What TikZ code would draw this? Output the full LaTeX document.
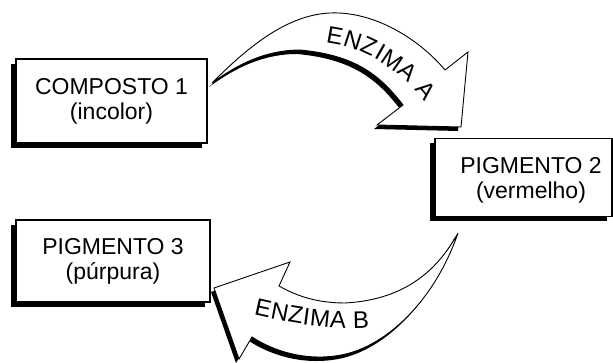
\documentclass[tikz,border=0pt]{standalone}
\usepackage{fontspec}
\setmainfont{Liberation Sans}
\usetikzlibrary{shadows}
\begin{document}
\begin{tikzpicture}[x=1pt,y=1pt,
  box/.style={draw=black, line width=1.1pt, fill=white, inner sep=0pt,
    general shadow={fill=black, shadow xshift=-5pt, shadow yshift=-5pt}},
  lbl/.style={align=center, font=\fontsize{23}{25}\selectfont, inner sep=0pt},
  enz/.style={anchor=base, inner sep=0pt, font=\fontsize{24}{26}\selectfont},
  arrowbody/.style={fill=white, draw=black, line width=0.9pt, line join=miter},
  arrowshadow/.style={fill=black, xshift=-3pt, yshift=-4pt}]
\useasboundingbox (0,0) rectangle (613,363);

% boxes
\node[box, lbl, minimum width=191pt, minimum height=84pt] (c1) at (111.5,262) {COMPOSTO 1\\(incolor)};
\node[box, minimum width=177pt, minimum height=78pt] (p2) at (523.5,185.5) {};
\node[lbl] (p2t) at (531,183) {PIGMENTO 2\\(vermelho)};
\node[box, lbl, minimum width=194pt, minimum height=82pt] (p3) at (113,102) {PIGMENTO 3\\(púrpura)};

% arrow A (shadow + body)
\fill[arrowshadow] (212,280) .. controls (245,313) and (285,348) .. (330,350)
  .. controls (375,352) and (420,323) .. (445,293) -- (468,311) -- (461,236) -- (377,238) -- (403,258)
  .. controls (380,288) and (355,308) .. (300,313) .. controls (260,313) and (230,293) .. (212,280) -- cycle;
\filldraw[arrowbody] (212,280) .. controls (245,313) and (285,348) .. (330,350)
  .. controls (375,352) and (420,323) .. (445,293) -- (468,311) -- (461,236) -- (377,238) -- (403,258)
  .. controls (380,288) and (355,308) .. (300,313) .. controls (260,313) and (230,293) .. (212,280) -- cycle;

% arrow B (shadow + body)
\fill[arrowshadow] (458,130) .. controls (435,88) and (400,63) .. (345,60)
  .. controls (315,60) and (295,68) .. (279,77) -- (290,101) -- (214,75) -- (239,4) -- (252,26)
  .. controls (275,11) and (305,3) .. (335,7) .. controls (385,13) and (435,63) .. (458,130) -- cycle;
\filldraw[arrowbody] (458,130) .. controls (435,88) and (400,63) .. (345,60)
  .. controls (315,60) and (295,68) .. (279,77) -- (290,101) -- (214,75) -- (239,4) -- (252,26)
  .. controls (275,11) and (305,3) .. (335,7) .. controls (385,13) and (435,63) .. (458,130) -- cycle;

% ENZIMA A
\node[enz, rotate=-10.3] (a1) at (333.5,319.5) {E};
\node[enz, rotate=-18.2] (a2) at (350.3,315.2) {N};
\node[enz, rotate=-25.0] (a3) at (365.6,309.0) {Z};
\node[enz, rotate=-29.7] (a4) at (376.2,303.6) {I};
\node[enz, rotate=-34.7] (a5) at (388.1,296.1) {M};
\node[enz, rotate=-40.8] (a6) at (402.4,284.8) {A};
\node[enz, rotate=-50.0] (a7) at (420.0,267.3) {A};

% ENZIMA B
\node[enz, rotate=-12.6] (b1) at (261.5,46.3) {E};
\node[enz, rotate=-11.0] (b2) at (278.3,42.9) {N};
\node[enz, rotate=-9.3]  (b3) at (294.5,40.0) {Z};
\node[enz, rotate=-7.9]  (b4) at (305.5,38.2) {I};
\node[enz, rotate=-6.0]  (b5) at (319.3,36.6) {M};
\node[enz, rotate=-3.2]  (b6) at (337.5,35.2) {A};
\node[enz, rotate=1.0]   (b7) at (361.2,34.7) {B};
\end{tikzpicture}
\end{document}
